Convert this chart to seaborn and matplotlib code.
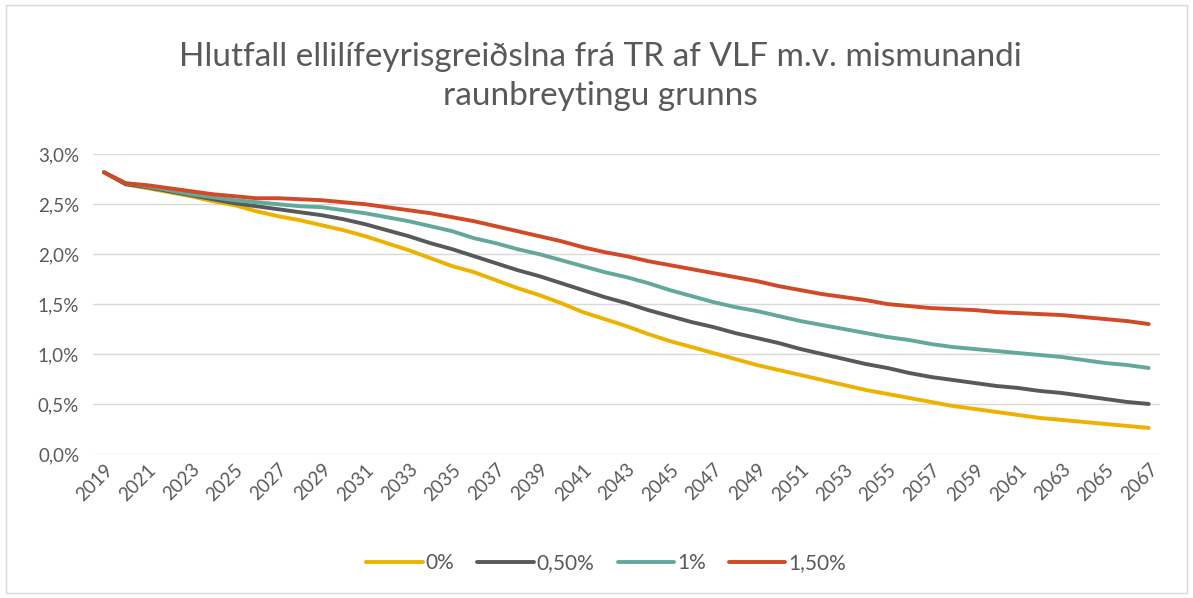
import pandas as pd
import matplotlib.pyplot as plt
import matplotlib.ticker as mticker
from matplotlib.patches import Rectangle
import seaborn as sns

# Data (percent of GDP)
years = list(range(2019, 2068))
series_names = ['0%', '0,50%', '1%', '1,50%']
s_0 = [2.82, 2.70, 2.66, 2.62, 2.58, 2.53, 2.49, 2.43, 2.38, 2.34,
       2.29, 2.24, 2.18, 2.11, 2.04, 1.96, 1.88, 1.82, 1.74, 1.66,
       1.59, 1.51, 1.42, 1.35, 1.28, 1.20, 1.13, 1.07, 1.01, 0.95,
       0.89, 0.84, 0.79, 0.74, 0.69, 0.64, 0.60, 0.56, 0.52, 0.48,
       0.45, 0.42, 0.39, 0.36, 0.34, 0.32, 0.30, 0.28, 0.26]
s_05 = [2.82, 2.70, 2.67, 2.63, 2.59, 2.55, 2.51, 2.48, 2.45, 2.42,
        2.39, 2.35, 2.30, 2.24, 2.18, 2.11, 2.05, 1.98, 1.91, 1.84,
        1.78, 1.71, 1.64, 1.57, 1.51, 1.44, 1.38, 1.32, 1.27, 1.21,
        1.16, 1.11, 1.05, 1.00, 0.95, 0.90, 0.86, 0.81, 0.77, 0.74,
        0.71, 0.68, 0.66, 0.63, 0.61, 0.58, 0.55, 0.52, 0.50]
s_1 = [2.82, 2.71, 2.68, 2.64, 2.60, 2.57, 2.54, 2.52, 2.50, 2.48,
       2.47, 2.44, 2.41, 2.37, 2.33, 2.28, 2.23, 2.16, 2.11, 2.05,
       2.00, 1.94, 1.88, 1.82, 1.77, 1.71, 1.64, 1.58, 1.52, 1.47,
       1.43, 1.38, 1.33, 1.29, 1.25, 1.21, 1.17, 1.14, 1.10, 1.07,
       1.05, 1.03, 1.01, 0.99, 0.97, 0.94, 0.91, 0.89, 0.86]
s_15 = [2.82, 2.71, 2.69, 2.66, 2.63, 2.60, 2.58, 2.56, 2.56, 2.55,
        2.54, 2.52, 2.50, 2.47, 2.44, 2.41, 2.37, 2.33, 2.28, 2.23,
        2.18, 2.13, 2.07, 2.02, 1.98, 1.93, 1.89, 1.85, 1.81, 1.77,
        1.73, 1.68, 1.64, 1.60, 1.57, 1.54, 1.50, 1.48, 1.46, 1.45,
        1.44, 1.42, 1.41, 1.40, 1.39, 1.37, 1.35, 1.33, 1.30]
colors = ['#EDB100', '#58595B', '#63A99B', '#D14A26']

df = pd.DataFrame({'year': years, '0%': s_0, '0,50%': s_05, '1%': s_1, '1,50%': s_15})
long_df = df.melt(id_vars='year', var_name='scenario', value_name='value')

sns.set_style('white')
plt.rcParams['font.family'] = ['Lato', 'DejaVu Sans']
text_grey = '#595959'

fig = plt.figure(figsize=(11.93, 5.98), dpi=100)
ax = fig.add_axes([0.078, 0.241, 0.894, 0.501])

sns.lineplot(data=long_df, x='year', y='value', hue='scenario',
             hue_order=series_names, palette=colors, linewidth=2.8,
             ax=ax, legend=True)

ax.set_xlim(2018.5, 2067.5)
ax.set_ylim(0, 3.0)
ax.yaxis.set_major_locator(mticker.MultipleLocator(0.5))
ax.yaxis.set_major_formatter(mticker.FuncFormatter(lambda v, p: f'{v:.1f}%'.replace('.', ',')))
ax.set_xticks(years[::2])
ax.set_xticklabels([str(y) for y in years[::2]], rotation=45, ha='right',
                   rotation_mode='anchor')
ax.tick_params(axis='both', colors=text_grey, labelsize=13.5, length=0)
ax.tick_params(axis='x', pad=5)
ax.tick_params(axis='y', pad=10)
ax.grid(axis='y', color='#D9D9D9', linewidth=1)
ax.set_axisbelow(True)
for s in ax.spines.values():
    s.set_visible(False)
ax.set_xlabel('')
ax.set_ylabel('')

fig.text(0.503, 0.93,
         'Hlutfall ellilífeyrisgreiðslna frá TR af VLF m.v. mismunandi\nraunbreytingu grunns',
         ha='center', va='top', color=text_grey, fontsize=24, linespacing=1.4)

handles, labels = ax.get_legend_handles_labels()
ax.legend(handles, labels, loc='center', bbox_to_anchor=(0.508, 0.058),
          bbox_transform=fig.transFigure, ncol=4, frameon=False,
          handlelength=2.7, handletextpad=0.15, columnspacing=1.1,
          fontsize=15, labelcolor=text_grey)

fig.add_artist(Rectangle((0.005, 0.008), 0.99, 0.984, transform=fig.transFigure,
                         fill=False, edgecolor='#D9D9D9', linewidth=1))

plt.savefig('out.png', dpi=100)
